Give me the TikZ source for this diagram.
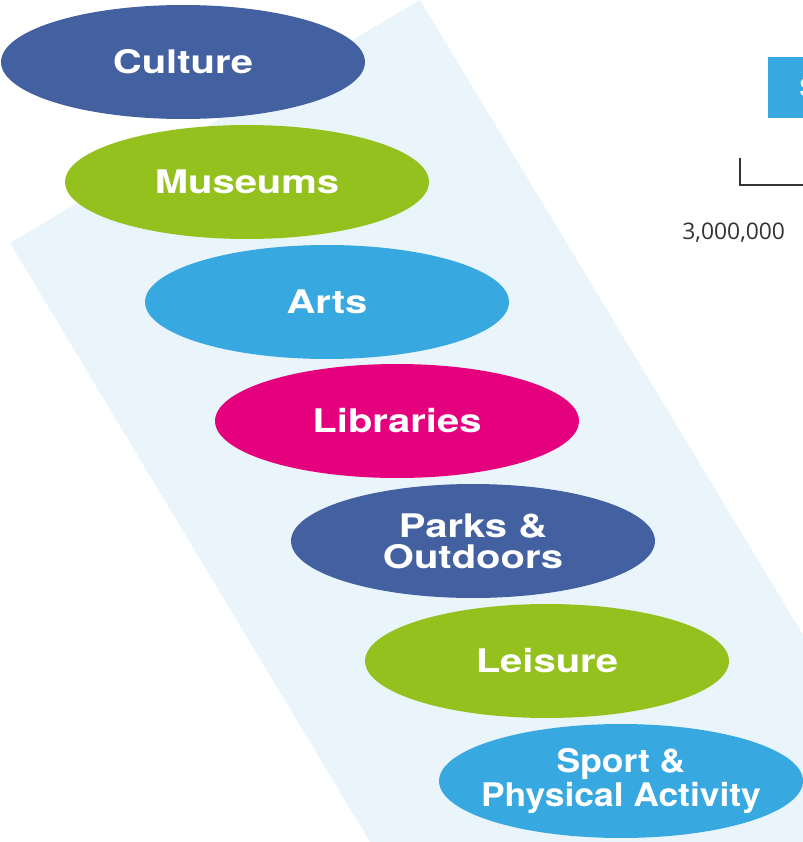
\documentclass[tikz,border=0pt]{standalone}
\usepackage{fontspec}
\usepackage{tikz}
\usetikzlibrary{shapes.geometric, positioning, calc}
\usetikzlibrary{backgrounds}
\newfontfamily\lblfont[FakeStretch=1.23]{TeX Gyre Heros}
\newfontfamily\lblfontn[FakeStretch=1.09]{TeX Gyre Heros}
\newfontfamily\numfont{Open Sans}
\definecolor{navyoval}{HTML}{4360A1}
\definecolor{limeoval}{HTML}{95C11F}
\definecolor{skyoval}{HTML}{38A9E0}
\definecolor{pinkoval}{HTML}{E5007D}
\definecolor{bandblue}{HTML}{E9F4FB}
\definecolor{axisgray}{HTML}{333333}
\tikzstyle{oval} = [ellipse, minimum width=7.28cm, minimum height=2.28cm, inner sep=0pt, text=white, align=center, font=\lblfont\bfseries\fontsize{18.5}{17.8}\selectfont]
\tikzstyle{legendbox} = [rectangle, anchor=north west, minimum height=1.22cm, text width=1.2cm, inner xsep=.62cm, inner ysep=0pt, align=left, fill=skyoval, text=white, font=\lblfont\bfseries\fontsize{15}{15}\selectfont]
\tikzstyle{numlabel} = [inner sep=0pt, text=axisgray, font=\numfont\fontsize{13}{13}\selectfont]
\tikzstyle{axis} = [axisgray, line width=.8pt]

\begin{document}
\begin{tikzpicture}[x=.02cm, y=-.02cm]
            \useasboundingbox (0,0) rectangle (803,842);
            \node (culture) [oval, fill=navyoval] at (183,62) {Culture};
            \node (museums) [oval, fill=limeoval] at ($(culture)+(64,120)$) {Museums};
            \node (arts) [oval, fill=skyoval] at ($(museums)+(80,120)$) {Arts};
            \node (libraries) [oval, fill=pinkoval] at ($(arts)+(70,119)$) {Libraries};
            \node (parks) [oval, fill=navyoval] at ($(libraries)+(76,120)$) {Parks \&\\Outdoors};
            \node (leisure) [oval, fill=limeoval] at ($(parks)+(74,120)$) {Leisure};
            \node (sport) [oval, fill=skyoval, inner xsep=-.4cm, font=\lblfontn\bfseries\fontsize{18.5}{17.8}\selectfont] at ($(leisure)+(74,120)$) {Sport \&\\Physical Activity};

            \node (legend) [legendbox] at (768,57) {S};
            \coordinate (axtop) at (740,158);
            \coordinate (axcorner) at (740,185);
            \coordinate (axend) at (815,185);
            \draw [axis] (axtop) -- (axcorner) -- (axend);
            \node (tick) [numlabel] at (733.7,232.5) {3,000,000};

            \begin{scope}[on background layer]
                \fill[bandblue] (10,243) -- (420,0) -- (928,842) -- (370,842) -- cycle;
            \end{scope}
        \end{tikzpicture}
\end{document}
